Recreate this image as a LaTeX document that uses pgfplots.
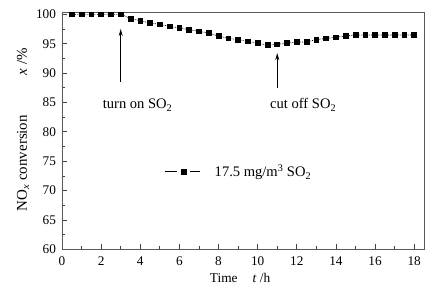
\documentclass[border=0pt]{standalone}
\usepackage{fontspec}
\setmainfont{Liberation Serif}
\usepackage{pgfplots}
\pgfplotsset{compat=1.18}
\usetikzlibrary{arrows.meta}
\pgfplotstableread{
t y
0.5 100
1.0 100
1.5 100
2.0 100
2.5 100
3.0 100
3.5 99.3
4.0 98.9
4.5 98.55
5.0 98.3
5.5 97.95
6.0 97.7
6.5 97.4
7.0 97.1
7.5 96.8
8.0 96.3
8.5 95.9
9.0 95.7
9.5 95.4
10.0 95.1
10.5 94.75
11.0 94.9
11.5 95.1
12.0 95.3
12.5 95.3
13.0 95.7
13.5 95.9
14.0 96.1
14.5 96.3
15.0 96.5
15.5 96.5
16.0 96.5
16.5 96.5
17.0 96.5
17.5 96.5
18.0 96.5
}\datatable
\begin{document}
\begin{tikzpicture}
\path[use as bounding box] (-62bp,-38.7bp) rectangle (372bp,249.3bp);
\begin{axis}[
  at={(0,0)}, anchor=south west,
  scale only axis, width=362bp, height=237bp,
  xmin=0, xmax=18.5, ymin=60, ymax=100.35,
  xtick={0,2,...,18}, ytick={60,65,...,100},
  minor x tick num=1, minor y tick num=1,
  tick pos=left, tick align=inside,
  major tick length=5bp, minor tick length=3bp,
  axis line style={black!65, line width=0.7bp},
  every tick/.style={black!75, line width=0.7bp},
  /pgf/number format/assume math mode=true,
  tick label style={font=\fontsize{13.3}{15}\selectfont},
  yticklabel style={xshift=-2.5bp},
  xticklabel style={yshift=-3.5bp},
  xlabel={Time\hspace{15bp}\textit{t} /h},
  xlabel style={font=\fontsize{13.4}{15}\selectfont, at={(axis description cs:0.492,0)}, anchor=base, yshift=-32.7bp},
  ylabel={NO\textsubscript{\textit{x}} conversion\hspace{40bp}\textit{x} /\%},
  ylabel style={font=\fontsize{15}{17}\selectfont, at={(axis description cs:-0.0967,0.505)}, anchor=base},
  legend style={at={(axis cs:5.25,73.2)}, anchor=west, draw=none, fill=none, inner sep=0pt,
    font=\fontsize{14.6}{17}\selectfont, nodes={inner sep=2bp}},
  legend image code/.code={
    \draw[solid,black,line width=0.8bp] (0bp,0bp) -- (12bp,0bp);
    \draw[solid,black,line width=0.8bp] (25bp,0bp) -- (35bp,0bp);
    \fill[solid,black] (16bp,-2.5bp) rectangle (21bp,2.5bp);
  },
]
\addplot[black, densely dotted, line width=0.7bp, mark=square*, mark size=2.4bp, mark options={solid}] table[x=t,y=y] {\datatable};
\addlegendentry{\hspace{12bp}17.5 mg/m\textsuperscript{3} SO\textsubscript{2}}
\draw[black, line width=0.8bp, -{Stealth[length=7bp,width=4bp]}] (axis cs:3,88.5) -- (axis cs:3,97.5);
\draw[black, line width=0.8bp, -{Stealth[length=7bp,width=4bp]}] (axis cs:11,87.5) -- (axis cs:11,93.4);
\node[anchor=base west, inner sep=0pt, font=\fontsize{14.6}{17}\selectfont] at (axis cs:2.08,83.9) {turn on SO\textsubscript{2}};
\node[anchor=base west, inner sep=0pt, font=\fontsize{14.6}{17}\selectfont] at (axis cs:10.63,83.9) {cut off SO\textsubscript{2}};
\end{axis}
\end{tikzpicture}
\end{document}
